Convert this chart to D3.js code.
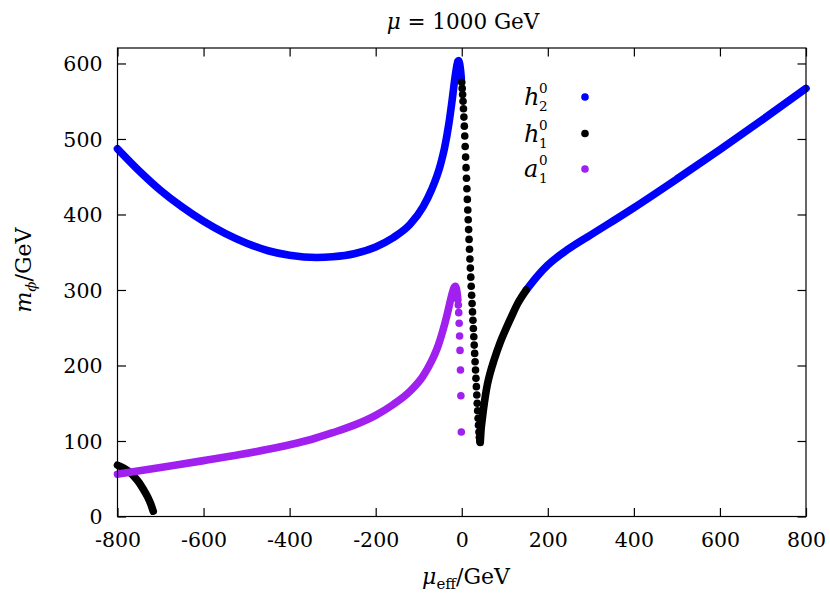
<!DOCTYPE html>
<html><head><meta charset="utf-8">
<script src="https://cdn.jsdelivr.net/npm/d3@7"></script>
<style>body{margin:0;background:#fff}svg{display:block}text{font-family:"DejaVu Serif",serif;fill:#000}</style>
</head><body><svg id="c" width="830" height="594"></svg>
<script>
// ---- data ----
const xTicks = [-800,-600,-400,-200,0,200,400,600,800];
const yTicks = [0,100,200,300,400,500,600];
// h2^0 (blue), left branch up to the peak
const h2LeftMu = [-800,-750,-700,-650,-600,-550,-500,-450,-400,-337,-300,-250,-200,-160,-120,-90,-70,-50,-40,-30,-22,-16,-12,-9,-7,-5,-3,-1];
const h2LeftM  = [487,458,432,410,391,375,362,352,346,343,344,348,357,369,387,410,433,465,488,520,553,580,595,603,604,600,592,580];
// h2^0 (blue), right branch
const h2RightMu = [150,175,200,250,300,400,500,600,700,800];
const h2RightM  = [300,318,333,355,373,409,447,486,526,567];
// h1^0 (black), low branch at the far left
const h1LowMu = [-800,-785,-770,-760,-750,-740,-730,-723,-717];
const h1LowM  = [68,64,58,52,45,36,26,17,7];
// h1^0 (black), steep sparse points (1 GeV steps)
const h1DropMu = [0,1,2,3,4,5,6,7,8,9,10,11,12,13,14,15,16,17,18,19,20,21,22,23,24,25,26,27,28,29,30,31,32,33,34,35,36,37,38,39,40,41,42];
const h1DropM  = [575,567,559,550,540,529,517,504,490,476,462,448,434,420,406,393,380,367,354,341,329,317,305,293,282,271,260,249,238,227,216,205,194,183,172,161,150,140,130,121,112,105,100];
// h1^0 (black), rising branch
const h1RiseMu = [43,44,45,47,50,55,60,66,75,89,100,115,130,150];
const h1RiseM  = [98,108,116,126,140,160,176,190,207,230,245,264,282,300];
// a1^0 (purple), dense branch
const a1Mu = [-800,-700,-600,-515,-450,-400,-350,-300,-250,-200,-160,-120,-90,-70,-55,-45,-35,-28,-22,-18,-15,-13,-11,-9];
const a1M  = [56,65,74,82,89,95,102,111,121,134,148,166,186,206,226,244,265,282,296,303,305,303,297,287];
// a1^0 (purple), sparse points
const a1DropMu = [-8,-7,-6,-5,-4,-3,-2,-1];
const a1DropM  = [280,270,256,239,220,194,160,112];

const legendNames = [["h","2","0"],["h","1","0"],["a","1","0"]];
const colors = ["#0000ff","#000000","#a020f0"];

// ---- layout ----
const svg = d3.select("#c");
const L=117.5, R=806, T=48, B=516.5;
const x = d3.scaleLinear().domain([-800,800]).range([L,R]);
const y = d3.scaleLinear().domain([0,620.5]).range([B,T]);
const SW = 7.6, RAD = 3.8;

const zip = (a,b)=>a.map((v,i)=>[v,b[i]]);
const line = d3.line().x(d=>x(d[0])).y(d=>y(d[1])).curve(d3.curveMonotoneX);
function band(mu,m,col){
  svg.append("path").attr("d",line(zip(mu,m))).attr("fill","none")
    .attr("stroke",col).attr("stroke-width",SW).attr("stroke-linecap","round").attr("stroke-linejoin","round");
}
function dots(mu,m,col){
  svg.append("g").selectAll("circle").data(zip(mu,m)).join("circle")
    .attr("cx",d=>x(d[0])).attr("cy",d=>y(d[1])).attr("r",RAD).attr("fill",col);
}

// blue first, then black, then purple
band(h2LeftMu,h2LeftM,colors[0]);
band(h2RightMu,h2RightM,colors[0]);
band(h1LowMu,h1LowM,colors[1]);
dots(h1DropMu,h1DropM,colors[1]);
band(h1RiseMu,h1RiseM,colors[1]);
band(a1Mu,a1M,colors[2]);
dots(a1DropMu,a1DropM,colors[2]);

// ---- axes (ticks inside, mirrored) ----
const fs = 20.5;
svg.append("rect").attr("x",L).attr("y",T).attr("width",R-L).attr("height",B-T)
  .attr("fill","none").attr("stroke","#000").attr("stroke-width",1.2);
const gxb = svg.append("g").attr("transform",`translate(0,${B})`)
  .call(d3.axisBottom(x).tickValues(xTicks).tickSize(-8.5).tickPadding(16).tickFormat(d3.format("d")));
const gxt = svg.append("g").attr("transform",`translate(0,${T})`)
  .call(d3.axisTop(x).tickValues(xTicks).tickSize(-8.5).tickFormat(""));
const gyl = svg.append("g").attr("transform",`translate(${L},0)`)
  .call(d3.axisLeft(y).tickValues(yTicks).tickSize(-8.5).tickPadding(15).tickFormat(d3.format("d")));
const gyr = svg.append("g").attr("transform",`translate(${R},0)`)
  .call(d3.axisRight(y).tickValues(yTicks).tickSize(-8.5).tickFormat(""));
[gxb,gxt,gyl,gyr].forEach(g=>{
  g.select(".domain").remove();
  g.selectAll("line").attr("stroke","#000").attr("stroke-width",1.2);
  g.selectAll("text").attr("font-family","DejaVu Serif").attr("font-size",fs).attr("fill","#000");
});
gxb.selectAll("text").text(d=>String(d)).attr("dy","0.71em");
gyl.selectAll("text").attr("dy","0.36em");

// ---- title ----
const t = svg.append("text").attr("x",463).attr("y",29).attr("text-anchor","middle").attr("font-size",21.5);
t.append("tspan").attr("font-style","italic").text("μ");
t.append("tspan").text(" = 1000 GeV");

// ---- x label ----
const xl = svg.append("text").attr("x",466).attr("y",584).attr("text-anchor","middle").attr("font-size",22);
xl.append("tspan").attr("font-style","italic").text("μ");
xl.append("tspan").attr("font-size",15).attr("dy",5).text("eff");
xl.append("tspan").attr("dy",-5).text("/GeV");

// ---- y label ----
const yl = svg.append("text").attr("transform","translate(31,270) rotate(-90)").attr("text-anchor","middle").attr("font-size",22);
yl.append("tspan").attr("font-style","italic").text("m");
yl.append("tspan").attr("font-style","italic").attr("font-size",15).attr("dy",5).text("ϕ");
yl.append("tspan").attr("dy",-5).text("/GeV");

// ---- legend ----
const base = [105,141.5,177];
legendNames.forEach((n,i)=>{
  const g = svg.append("g");
  const tx = g.append("text").attr("x",524).attr("y",base[i]).attr("font-size",24);
  tx.append("tspan").attr("font-style","italic").text(n[0]);
  tx.append("tspan").attr("x",539).attr("dy",-12).attr("font-size",13.5).text(n[2]);
  tx.append("tspan").attr("x",539).attr("dy",18).attr("font-size",13.5).text(n[1]);
  g.append("circle").attr("cx",585).attr("cy",base[i]-8).attr("r",RAD).attr("fill",colors[i]);
});
</script></body></html>
